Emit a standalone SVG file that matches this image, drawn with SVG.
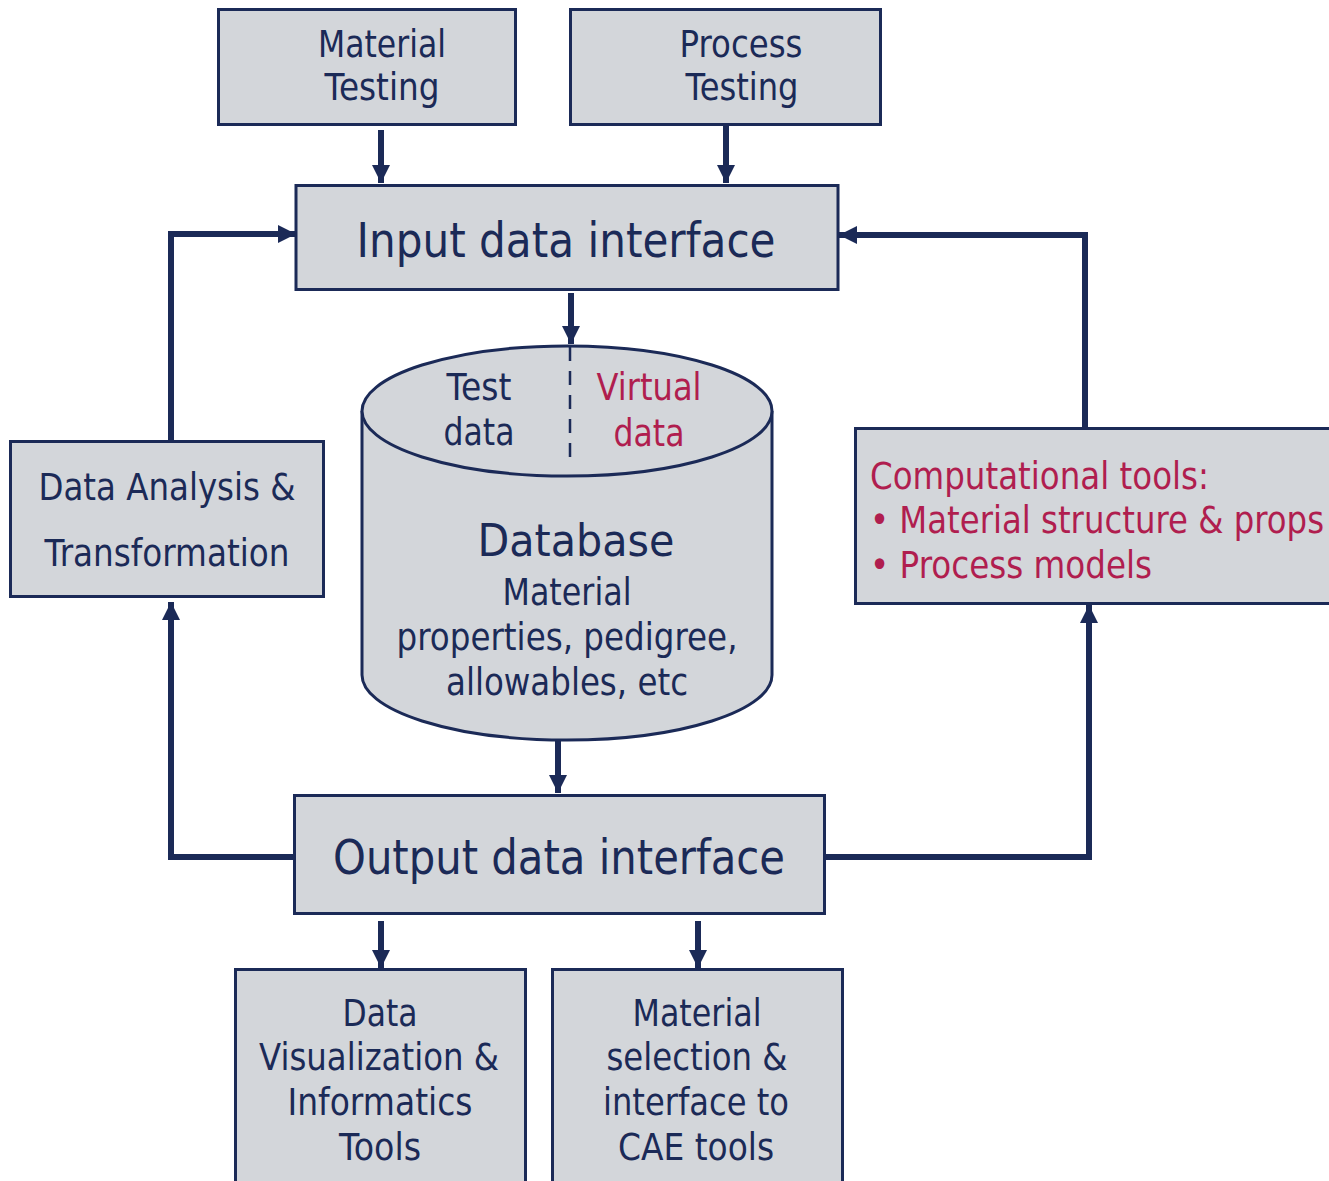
<svg xmlns="http://www.w3.org/2000/svg" width="1329" height="1181" viewBox="0 0 1329 1181">
  <style>
    .box { fill: #d3d6da; stroke: #1b2a57; stroke-width: 3; }
    .wire { fill: none; stroke: #1b2a57; stroke-width: 6; }
    .t { font-family: "DejaVu Sans", Verdana, sans-serif; fill: #1b2a57; text-anchor: middle; }
    .start { text-anchor: start; }
    .red { fill: #b01e4f; }
    .m { font-size: 37px; }
    .l { font-size: 48px; }
  </style>
  <defs>
    <marker id="arrow" markerUnits="userSpaceOnUse" markerWidth="18" markerHeight="18" viewBox="0 0 18 18" refX="18" refY="9" orient="auto">
      <path d="M0,0 L18,9 L0,18 Z" fill="#1b2a57"/>
    </marker>
  </defs>

  <rect width="1329" height="1181" fill="#ffffff"/>

  <!-- connectors -->
  <g id="connectors">
    <line class="wire" x1="381" y1="130" x2="381" y2="183" marker-end="url(#arrow)"/>
    <line class="wire" x1="726" y1="124" x2="726" y2="183" marker-end="url(#arrow)"/>
    <line class="wire" x1="571" y1="293" x2="571" y2="344" marker-end="url(#arrow)"/>
    <line class="wire" x1="558" y1="741" x2="558" y2="793" marker-end="url(#arrow)"/>
    <line class="wire" x1="381" y1="921" x2="381" y2="968" marker-end="url(#arrow)"/>
    <line class="wire" x1="698" y1="921" x2="698" y2="968" marker-end="url(#arrow)"/>
    <!-- left feedback loop -->
    <polyline class="wire" points="297,857 171,857 171,602" marker-end="url(#arrow)"/>
    <polyline class="wire" points="171,441 171,234 296,234" marker-end="url(#arrow)"/>
    <!-- right feedback loop -->
    <polyline class="wire" points="825,857 1089,857 1089,605" marker-end="url(#arrow)"/>
    <polyline class="wire" points="1085,428 1085,235 839,235" marker-end="url(#arrow)"/>
  </g>

  <g id="material-testing">
    <rect class="box" x="218.5" y="9.5" width="297" height="115"/>
    <text class="t m" x="382" y="57" textLength="128" lengthAdjust="spacingAndGlyphs">Material</text>
    <text class="t m" x="382" y="100" textLength="115" lengthAdjust="spacingAndGlyphs">Testing</text>
  </g>

  <g id="process-testing">
    <rect class="box" x="570.5" y="9.5" width="310" height="115"/>
    <text class="t m" x="741" y="57" textLength="123" lengthAdjust="spacingAndGlyphs">Process</text>
    <text class="t m" x="742" y="100" textLength="113" lengthAdjust="spacingAndGlyphs">Testing</text>
  </g>

  <g id="input-interface">
    <rect class="box" x="296" y="185.5" width="542" height="104"/>
    <text class="t l" x="566" y="257" textLength="419" lengthAdjust="spacingAndGlyphs">Input data interface</text>
  </g>

  <g id="database">
    <path class="box" d="M362,411 L362,675 A205,65 0 0 0 772,675 L772,411"/>
    <ellipse class="box" cx="567" cy="411" rx="205" ry="65"/>
    <line x1="570" y1="347" x2="570" y2="463" stroke="#1b2a57" stroke-width="2.5" stroke-dasharray="14,10"/>
    <text class="t m" x="479" y="400" textLength="65" lengthAdjust="spacingAndGlyphs">Test</text>
    <text class="t m" x="479" y="445" textLength="71" lengthAdjust="spacingAndGlyphs">data</text>
    <text class="t m red" x="649" y="400" textLength="105" lengthAdjust="spacingAndGlyphs">Virtual</text>
    <text class="t m red" x="649" y="446" textLength="71" lengthAdjust="spacingAndGlyphs">data</text>
    <text class="t" x="576" y="556" font-size="45" textLength="197" lengthAdjust="spacingAndGlyphs">Database</text>
    <text class="t m" x="567" y="605" textLength="129" lengthAdjust="spacingAndGlyphs">Material</text>
    <text class="t m" x="567" y="650" textLength="341" lengthAdjust="spacingAndGlyphs">properties, pedigree,</text>
    <text class="t m" x="567" y="695" textLength="242" lengthAdjust="spacingAndGlyphs">allowables, etc</text>
  </g>

  <g id="output-interface">
    <rect class="box" x="294.5" y="795.5" width="530" height="118"/>
    <text class="t l" x="559" y="874" textLength="452" lengthAdjust="spacingAndGlyphs">Output data interface</text>
  </g>

  <g id="data-analysis">
    <rect class="box" x="10.5" y="441.5" width="313" height="155"/>
    <text class="t m" x="167" y="500" textLength="257" lengthAdjust="spacingAndGlyphs">Data Analysis &amp;</text>
    <text class="t m" x="167" y="566" textLength="245" lengthAdjust="spacingAndGlyphs">Transformation</text>
  </g>

  <g id="computational-tools">
    <rect class="box" x="855.5" y="428.5" width="480" height="175"/>
    <text class="t m red start" x="870" y="489" textLength="339" lengthAdjust="spacingAndGlyphs">Computational tools:</text>
    <text class="t m red start" x="870" y="533" textLength="454" lengthAdjust="spacingAndGlyphs">• Material structure &amp; props</text>
    <text class="t m red start" x="870" y="578" textLength="282" lengthAdjust="spacingAndGlyphs">• Process models</text>
  </g>

  <g id="data-visualization">
    <rect class="box" x="235.5" y="969.5" width="290" height="220"/>
    <text class="t m" x="380" y="1026" textLength="75" lengthAdjust="spacingAndGlyphs">Data</text>
    <text class="t m" x="379" y="1070" textLength="240" lengthAdjust="spacingAndGlyphs">Visualization &amp;</text>
    <text class="t m" x="380" y="1115" textLength="185" lengthAdjust="spacingAndGlyphs">Informatics</text>
    <text class="t m" x="380" y="1160" textLength="82" lengthAdjust="spacingAndGlyphs">Tools</text>
  </g>

  <g id="material-selection">
    <rect class="box" x="552.5" y="969.5" width="290" height="220"/>
    <text class="t m" x="697" y="1026" textLength="129" lengthAdjust="spacingAndGlyphs">Material</text>
    <text class="t m" x="697" y="1070" textLength="181" lengthAdjust="spacingAndGlyphs">selection &amp;</text>
    <text class="t m" x="696" y="1115" textLength="186" lengthAdjust="spacingAndGlyphs">interface to</text>
    <text class="t m" x="696" y="1160" textLength="156" lengthAdjust="spacingAndGlyphs">CAE tools</text>
  </g>
</svg>
